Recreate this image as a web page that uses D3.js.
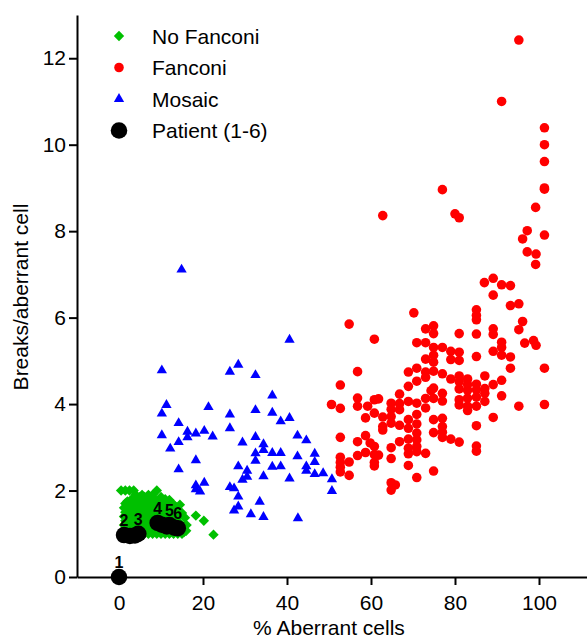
<!DOCTYPE html>
<html>
<head>
  <meta charset="utf-8">
  <script src="https://d3js.org/d3.v7.min.js"></script>
  <style>
    body { margin: 0; background: #fff; }
    svg text { font-family: "Liberation Sans", Arial, sans-serif; }
  </style>
</head>
<body>
<script type="text/javascript">
  // data: [% aberrant cells, breaks per aberrant cell]
  var noFanconi = [
    [0.5,2.0],[1.5,2.0],[2.5,2.0],[3.5,2.0],[9,2.0],
    [4,1.9],[5.5,1.9],[7,1.9],[8,1.9],
    [5,1.85],[6,1.85],[10,1.85],
    [3,1.8],[4.5,1.8],[6.5,1.8],[8.5,1.8],[11,1.8],[12,1.78],
    [2,1.75],[5,1.75],[7.5,1.75],[9.5,1.75],
    [1.5,1.7],[3.5,1.7],[6,1.7],[8,1.7],[10,1.7],[13,1.68],[14.5,1.67],
    [2.5,1.65],[4.5,1.65],[7,1.65],[11.5,1.65],[13.5,1.62],
    [1.2,1.6],[3,1.6],[5.5,1.6],[9,1.6],[10.5,1.6],[12.5,1.6],
    [2,1.55],[4,1.55],[6.5,1.55],[8,1.55],[14,1.55],
    [1.5,1.5],[3,1.5],[5,1.5],[7.5,1.5],[11,1.5],[13,1.5],[15,1.48],
    [2.5,1.45],[4.5,1.45],[6,1.45],[9.5,1.45],[12,1.45],[18.3,1.42],
    [1.2,1.4],[3.5,1.4],[5.5,1.4],[7,1.4],[8.5,1.4],[10.5,1.4],[14,1.4],[15.7,1.37],
    [2,1.35],[4,1.35],[6.5,1.35],[12.5,1.35],
    [1.5,1.3],[3,1.3],[5,1.3],[8,1.3],[11,1.3],[13.5,1.3],[20.2,1.3],
    [2.5,1.25],[4.5,1.25],[6,1.25],[7,1.25],[14.5,1.25],
    [1.2,1.2],[3.5,1.2],[5.5,1.2],[8.5,1.2],[16.1,1.2],
    [2,1.15],[4,1.15],[6.5,1.15],[7.5,1.15],[15,1.15],
    [1.5,1.1],[3,1.1],[5,1.1],[6,1.1],[8,1.1],[16,1.07],
    [2.5,1.05],[4.5,1.05],[7,1.05],[9,1.05],[12,1.05],[15.5,1.04],
    [1,1.0],[2,1.0],[3,1.0],[4,1.0],[5,1.0],[6,1.0],[7,1.0],[8,1.0],[9,1.0],
    [10,1.0],[11,1.0],[12,1.0],[13,1.0],[14,1.0],[15,1.0],[22.5,0.98]
  ];

  var fanconi = [
    [95.2,12.42],[91.1,11.0],[101.3,10.39],[101.3,10.0],[101.3,9.61],[101.3,9.0],[101.3,8.97],
    [99.2,8.55],[77.0,8.96],[62.8,8.36],[80.0,8.40],[81.0,8.31],[97.2,8.01],[96.1,7.82],
    [101.3,7.91],[97.2,7.52],[99.3,7.47],[99.2,7.23],
    [87.0,6.81],[89.1,6.91],[91.1,6.76],[93.2,6.74],[89.1,6.52],[93.2,6.28],[95.2,6.32],
    [85.1,6.18],[85.1,6.05],[85.1,5.95],[70.2,6.11],[54.8,5.85],[96.1,5.91],[95.2,5.72],
    [89.1,5.74],[89.1,5.61],[73.0,5.74],[74.9,5.81],[74.9,5.63],[81.0,5.63],[85.1,5.62],
    [60.8,5.50],[70.9,5.42],[73.0,5.42],[74.9,5.31],[77.0,5.31],[79.0,5.22],[81.0,5.20],
    [79.0,5.03],[81.0,5.01],[74.9,5.13],[73.0,5.04],[74.9,4.97],[85.1,5.10],[91.1,5.43],
    [91.1,5.31],[89.1,5.22],[91.1,5.13],[93.2,5.09],[96.6,5.41],[98.7,5.47],[99.3,5.36],
    [101.3,4.83],[93.2,4.83],[56.8,4.75],[68.9,4.74],[70.9,4.83],[73.0,4.74],[73.0,4.62],
    [74.9,4.76],[77.0,4.70],[79.0,4.58],[81.0,4.65],[81.0,4.52],[83.0,4.58],[83.0,4.45],
    [87.1,4.65],[89.1,4.45],[91.1,4.55],[70.9,4.53],[68.9,4.41],[52.7,4.44],[81.0,4.35],
    [83.0,4.32],[85.1,4.46],[85.1,4.33],[87.1,4.36],[87.1,4.25],[85.1,4.16],[87.1,4.06],
    [91.1,4.19],[83.0,4.14],[81.0,4.10],[74.9,4.37],[74.3,4.31],[74.9,4.13],[77.0,4.25],
    [77.0,4.07],[73.0,4.13],[70.9,4.02],[68.9,4.06],[66.8,4.23],[66.8,4.01],[64.8,4.02],
    [60.8,4.10],[61.8,4.12],[56.8,4.14],
    [81.0,3.98],[83.0,3.95],[83.0,3.85],[85.1,3.95],[73.0,3.91],[70.9,3.76],[66.8,3.87],
    [64.8,3.88],[64.8,3.71],[64.8,3.56],[66.8,3.51],[62.8,3.70],[62.8,3.48],[62.8,3.40],
    [60.8,3.79],[58.7,3.68],[59.2,3.95],[56.8,3.95],[50.6,3.99],[52.7,3.90],[68.9,3.64],
    [68.9,3.44],[70.9,3.54],[70.9,3.33],[68.9,3.19],[66.8,3.13],[70.9,3.17],[70.9,3.02],
    [74.9,3.64],[77.0,3.67],[77.0,3.48],[74.9,3.34],[77.0,3.35],[77.0,3.23],[79.0,3.19],
    [81.0,3.12],[85.1,3.50],[85.1,3.03],[89.1,3.69],[95.2,3.95],[101.3,3.99],[52.7,3.23],
    [56.8,3.13],[58.7,3.27],[59.8,3.10],[60.8,3.02],[64.8,2.99],
    [70.9,2.90],[68.9,2.98],[68.9,2.85],[73.0,2.86],[85.1,2.91],[60.8,2.83],[61.8,2.82],
    [60.8,2.65],[60.8,2.57],[58.7,2.88],[56.8,2.81],[54.8,2.66],[52.7,2.77],[52.7,2.65],
    [52.7,2.54],[52.7,2.43],[54.8,2.35],[64.8,2.74],[68.9,2.58],[74.9,2.45],[70.9,2.30],
    [64.8,2.18],[65.8,2.13],[64.8,2.01]
  ];

  var mosaic = [
    [14.9,7.11],[40.6,5.49],[10.2,4.78],[26.4,4.75],[28.4,4.91],[32.5,4.67],[36.5,4.20],
    [11.3,3.98],[10.2,3.78],[21.3,3.93],[26.4,3.76],[32.5,3.86],[36.5,3.80],[38.5,3.60],
    [40.6,3.68],[14.2,3.56],[16.3,3.36],[16.3,3.23],[18.3,3.32],[20.3,3.38],[22.3,3.25],
    [10.2,3.28],[14.2,3.12],[12.2,2.97],[26.4,3.44],[32.5,3.24],[29.4,3.11],[34.4,3.07],
    [34.4,2.94],[32.5,2.86],[32.5,2.69],[36.5,2.87],[38.5,2.87],[42.5,3.27],[44.6,3.16],
    [42.5,2.79],[46.6,2.85],[46.6,2.66],[44.6,2.56],[44.6,2.46],[46.6,2.38],[48.6,2.40],
    [50.7,2.26],[50.7,1.99],[36.5,2.55],[38.5,2.56],[40.6,2.28],[34.4,2.33],[28.4,2.56],
    [30.5,2.46],[30.5,2.32],[29.4,2.25],[18.3,2.70],[14.2,2.49],[18.3,2.12],[20.3,2.18],
    [18.3,2.03],[19.3,1.98],[26.4,2.08],[27.4,2.05],[28.4,1.86],[28.4,1.63],[27.4,1.54],
    [33.5,1.74],[31.4,1.45],[34.4,1.39],[42.6,1.36]
  ];

  // patients 1-6, each with its measurements (label sits over the first one)
  var patientIds = [1, 2, 3, 4, 5, 6];
  var patientPoints = [
    [[0, 0]],
    [[1.2, 0.97], [2.6, 0.95]],
    [[4.6, 1.0], [3.8, 0.96]],
    [[9.2, 1.25], [10.2, 1.21]],
    [[12.0, 1.2], [11.4, 1.17]],
    [[14.0, 1.13], [13.2, 1.14]]
  ];

  var xTicks = [0, 20, 40, 60, 80, 100];
  var yTicks = [0, 2, 4, 6, 8, 10, 12];
  var legendLabels = ["No Fanconi", "Fanconi", "Mosaic", "Patient (1-6)"];
  var xTitle = "% Aberrant cells";
  var yTitle = "Breaks/aberrant cell";

  var width = 587, height = 640;
  var plotLeft = 77, plotBottom = 577, plotTop = 15, plotRight = 587;

  var svg = d3.select("body")
    .append("svg")
      .attr("width", width)
      .attr("height", height);

  var x = d3.scaleLinear().domain([-10, 111.43]).range([plotLeft, plotRight]);
  var y = d3.scaleLinear().domain([0, 13]).range([plotBottom, plotTop]);

  var green = "#00c000", red = "#ff0000", blue = "#0000ff";

  var diamond = d3.symbol().type(d3.symbolSquare).size(54);
  var circle = d3.symbol().type(d3.symbolCircle).size(72);
  var triangle = d3.symbol().type(d3.symbolTriangle).size(46);
  var bigCircle = d3.symbol().type(d3.symbolCircle).size(215);

  function plot(data, sym, color, rotate) {
    svg.append("g")
      .selectAll("path")
      .data(data)
      .enter()
      .append("path")
        .attr("d", sym)
        .attr("fill", color)
        .attr("transform", function (d) {
          return "translate(" + x(d[0]) + "," + y(d[1]) + ")" + (rotate ? " rotate(45)" : "");
        });
  }

  plot(noFanconi, diamond, green, true);
  plot(fanconi, circle, red, false);
  plot(mosaic, triangle, blue, false);

  var allPatient = [];
  patientPoints.forEach(function (pts) { pts.forEach(function (p) { allPatient.push(p); }); });
  plot(allPatient, bigCircle, "#000", false);

  // patient number above first measurement
  svg.append("g")
    .selectAll("text")
    .data(patientIds)
    .enter()
    .append("text")
      .attr("x", function (d, i) { return x(patientPoints[i][0][0]); })
      .attr("y", function (d, i) { return y(patientPoints[i][0][1]) - 9; })
      .attr("text-anchor", "middle")
      .style("font-size", "16px")
      .style("font-weight", "bold")
      .text(function (d) { return d; });

  // axes
  var xAxis = svg.append("g")
    .attr("transform", "translate(0," + plotBottom + ")")
    .call(d3.axisBottom(x).tickValues(xTicks).tickSize(8).tickSizeOuter(0).tickPadding(10));

  var yAxis = svg.append("g")
    .attr("transform", "translate(" + plotLeft + ",0)")
    .call(d3.axisLeft(y).tickValues(yTicks).tickSize(8).tickSizeOuter(0).tickPadding(3));

  [xAxis, yAxis].forEach(function (ax) {
    ax.attr("font-family", null).attr("font-size", null);
    ax.select(".domain").attr("stroke-width", 2);
    ax.selectAll(".tick line").attr("stroke-width", 2);
    ax.selectAll(".tick text").style("font-size", "21px").attr("fill", "#000");
  });

  svg.append("text")
    .attr("x", x(50))
    .attr("y", 635)
    .attr("text-anchor", "middle")
    .style("font-size", "21px")
    .text(xTitle);

  svg.append("text")
    .attr("transform", "translate(28," + 297 + ") rotate(-90)")
    .attr("text-anchor", "middle")
    .style("font-size", "21px")
    .text(yTitle);

  // legend
  var legendSyms = [
    { sym: diamond, color: green, rot: true },
    { sym: circle, color: red, rot: false },
    { sym: triangle, color: blue, rot: false },
    { sym: bigCircle, color: "#000", rot: false }
  ];

  var legend = svg.append("g")
    .selectAll("g")
    .data(legendLabels)
    .enter()
    .append("g")
      .attr("transform", function (d, i) { return "translate(119," + (36 + i * 31.5) + ")"; });

  legend.append("path")
    .attr("d", function (d, i) { return legendSyms[i].sym(); })
    .attr("fill", function (d, i) { return legendSyms[i].color; })
    .attr("transform", function (d, i) { return legendSyms[i].rot ? "rotate(45)" : null; });

  legend.append("text")
    .attr("x", 33)
    .attr("dy", "0.36em")
    .style("font-size", "21px")
    .text(function (d) { return d; });
</script>
</body>
</html>
